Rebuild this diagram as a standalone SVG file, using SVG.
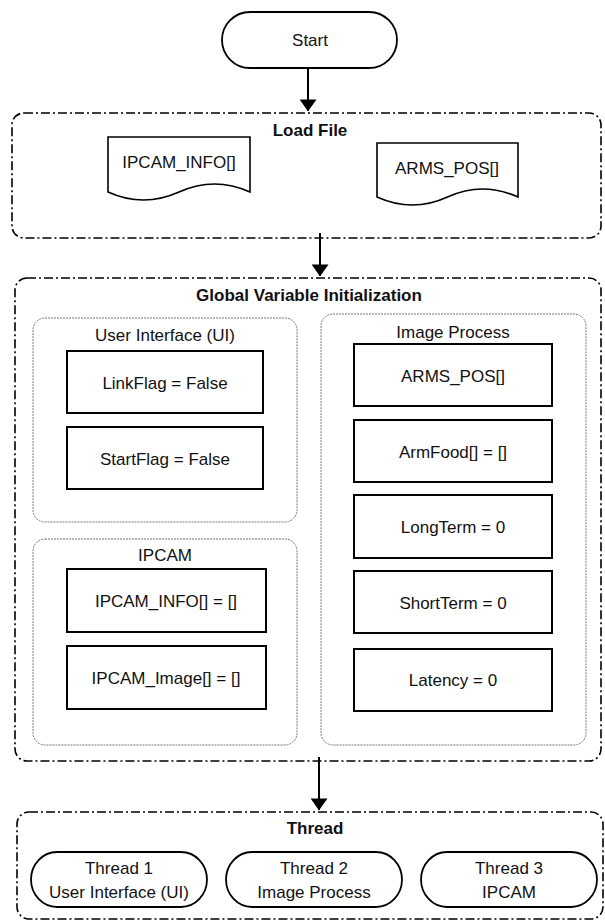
<svg xmlns="http://www.w3.org/2000/svg" width="605" height="921" viewBox="0 0 605 921">
<defs>
<style>
.t{font-family:"Liberation Sans",Arial,sans-serif;font-size:17px;fill:#111;text-anchor:middle}
.b{font-weight:bold}
.grp{fill:none;stroke:#000;stroke-width:1.6;stroke-dasharray:9 3 2 3}
.sub{fill:none;stroke:#777;stroke-width:1;stroke-dasharray:2 1}
.box{fill:#fff;stroke:#000;stroke-width:2}
.pill{fill:#fff;stroke:#000;stroke-width:1.8}
.doc{fill:#fff;stroke:#000;stroke-width:1.6}
.ln{stroke:#000;stroke-width:2;fill:none}
</style>
<marker id="ah" markerWidth="6" markerHeight="8.5" refX="5.8" refY="4.25" orient="auto" markerUnits="strokeWidth">
<path d="M0,0 L6,4.25 L0,8.5 Z" fill="#000"/>
</marker>
</defs>

<g id="start">
<rect class="pill" x="222" y="12" width="175" height="56" rx="28" ry="28"/>
<text class="t" x="310" y="46">Start</text>
</g>

<g id="loadfile">
<rect class="grp" x="12" y="113" width="589" height="125" rx="12" ry="12"/>
<text class="t b" x="310" y="136">Load File</text>
<g id="doc-ipcam-info">
<path class="doc" d="M108,137 H250 V192 Q214.5,176 179,192 T108,192 Z"/>
<text class="t" x="179" y="168">IPCAM_INFO[]</text>
</g>
<g id="doc-arms-pos">
<path class="doc" d="M377,143 H518 V197 Q482.5,181 447.5,197 T377,197 Z"/>
<text class="t" x="447" y="174">ARMS_POS[]</text>
</g>
</g>

<g id="global">
<rect class="grp" x="15" y="278" width="586" height="483" rx="12" ry="12"/>
<text class="t b" x="309" y="301">Global Variable Initialization</text>

<g id="ui">
<rect class="sub" x="33" y="318" width="264" height="204" rx="12" ry="12"/>
<text class="t" x="165" y="341">User Interface (UI)</text>
<g id="linkflag"><rect class="box" x="67" y="351" width="196" height="62"/><text class="t" x="165" y="389">LinkFlag = False</text></g>
<g id="startflag"><rect class="box" x="67" y="427" width="196" height="62"/><text class="t" x="165" y="465">StartFlag = False</text></g>
</g>

<g id="ipcam">
<rect class="sub" x="33" y="539" width="264" height="206" rx="12" ry="12"/>
<text class="t" x="165" y="561">IPCAM</text>
<g id="ipcam-info"><rect class="box" x="67" y="569" width="199" height="63"/><text class="t" x="166" y="607">IPCAM_INFO[] = []</text></g>
<g id="ipcam-image"><rect class="box" x="67" y="646" width="199" height="63"/><text class="t" x="166" y="684">IPCAM_Image[] = []</text></g>
</g>

<g id="imageprocess">
<rect class="sub" x="321" y="314" width="265" height="431" rx="12" ry="12"/>
<text class="t" x="453" y="338">Image Process</text>
<g id="arms-pos"><rect class="box" x="354" y="344" width="198" height="62"/><text class="t" x="453" y="382">ARMS_POS[]</text></g>
<g id="armfood"><rect class="box" x="354" y="420" width="198" height="62"/><text class="t" x="453" y="458">ArmFood[] = []</text></g>
<g id="longterm"><rect class="box" x="354" y="495" width="198" height="63"/><text class="t" x="453" y="533">LongTerm = 0</text></g>
<g id="shortterm"><rect class="box" x="354" y="571" width="198" height="62"/><text class="t" x="453" y="609">ShortTerm = 0</text></g>
<g id="latency"><rect class="box" x="354" y="649" width="198" height="62"/><text class="t" x="453" y="686">Latency = 0</text></g>
</g>
</g>

<g id="thread">
<rect class="grp" x="17" y="812" width="586" height="107" rx="12" ry="12"/>
<text class="t b" x="315" y="834">Thread</text>
<g id="thread1">
<rect class="pill" x="31" y="852" width="176" height="55" rx="26" ry="27.5"/>
<text class="t" x="119" y="874">Thread 1</text>
<text class="t" x="119" y="898">User Interface (UI)</text>
</g>
<g id="thread2">
<rect class="pill" x="226" y="852" width="176" height="55" rx="26" ry="27.5"/>
<text class="t" x="314" y="874">Thread 2</text>
<text class="t" x="314" y="898">Image Process</text>
</g>
<g id="thread3">
<rect class="pill" x="421" y="852" width="176" height="55" rx="26" ry="27.5"/>
<text class="t" x="509" y="874">Thread 3</text>
<text class="t" x="509" y="898">IPCAM</text>
</g>
</g>

<g id="connectors">
<line class="ln" x1="308" y1="68" x2="308" y2="111" marker-end="url(#ah)"/>
<line class="ln" x1="320" y1="233" x2="320" y2="276" marker-end="url(#ah)"/>
<line class="ln" x1="319" y1="757" x2="319" y2="810" marker-end="url(#ah)"/>
</g>
</svg>
